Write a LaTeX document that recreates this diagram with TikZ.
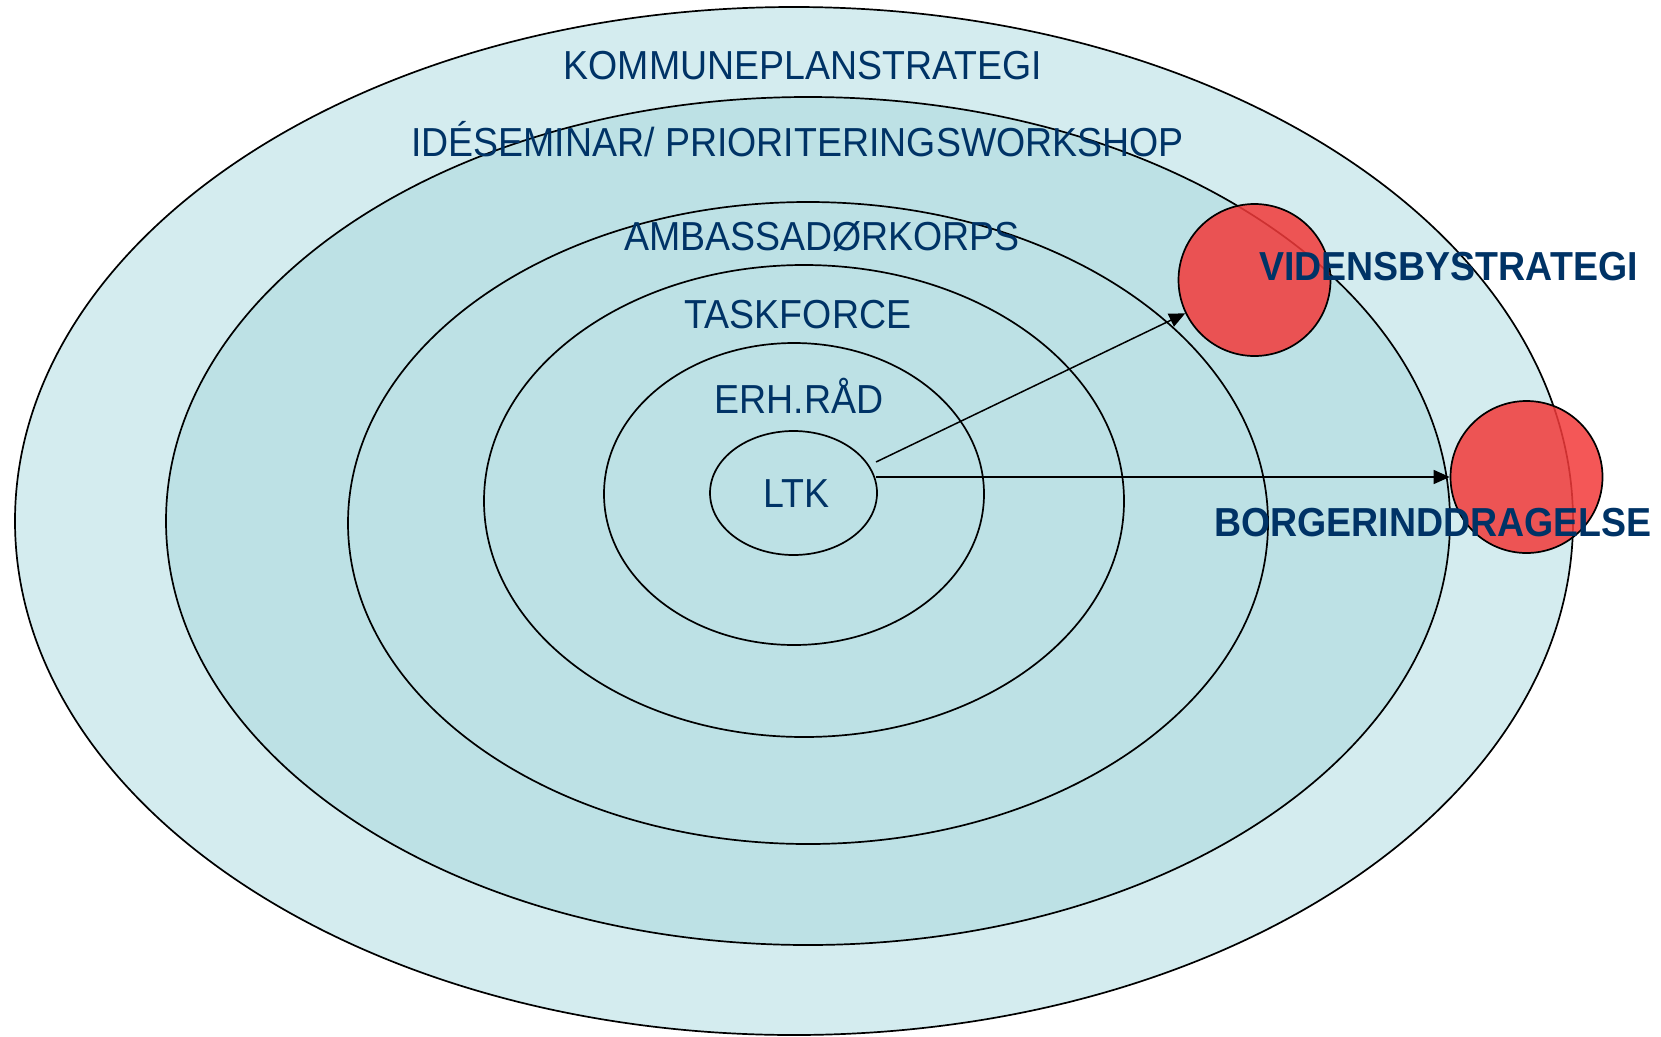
\documentclass[tikz,border=0pt]{standalone}
\usepackage{fontspec}
\setmainfont{Liberation Sans}
\usetikzlibrary{shapes.geometric,arrows.meta}
\definecolor{navy}{RGB}{0,51,102}
\definecolor{ringlight}{RGB}{212,236,239}
\definecolor{ringdark}{RGB}{189,225,229}
\definecolor{redfill}{RGB}{242,58,58}
\newcommand{\tall}[1]{\scalebox{1}[1.08]{#1}}
\begin{document}
\begin{tikzpicture}[x=1pt,y=-1pt,
  ring/.style={ellipse, draw=black, line width=1.7pt, inner sep=0pt, fill=ringdark},
  lbl/.style={text=navy, font=\fontsize{37.5}{40}\selectfont, inner sep=0pt, anchor=base},
  blbl/.style={text=navy, font=\fontsize{37.5}{40}\selectfont\bfseries, inner sep=0pt, anchor=base west},
  dot/.style={circle, draw=black, line width=1.7pt, fill=redfill, fill opacity=0.85, minimum size=152pt, inner sep=0pt},
  arr/.style={-{Triangle[length=16pt,width=14pt]}, line width=1.5pt, draw=black}]
\useasboundingbox (0,0) rectangle (1661,1036);
\node[ring, fill=ringlight, minimum width=1558pt, minimum height=1028pt] (kps) at (794,521) {};
\node[ring, minimum width=1284pt, minimum height=848pt] (ide) at (808,521) {};
\node[ring, minimum width=920pt, minimum height=642pt] (amb) at (808,523) {};
\node[ring, minimum width=640pt, minimum height=472pt] (task) at (804,501) {};
\node[ring, minimum width=380pt, minimum height=302pt] (erh) at (794,494) {};
\node[ring, minimum width=167pt, minimum height=124pt] (ltk) at (793.5,493) {};
\coordinate (s1) at (876,462);
\coordinate (s2) at (876,477);
\node[dot] (vid) at (1254.5,280) {};
\node[dot] (bor) at (1526.5,477) {};
\draw[arr] (s1) -- (vid);
\draw[arr] (s2) -- (bor);
\node[lbl] (t1) at (803,79) {\tall{KOMMUNEPLANSTRATEGI}};
\node[lbl] (t2) at (797.5,156) {\tall{IDÉSEMINAR/ PRIORITERINGSWORKSHOP}};
\node[lbl] (t3) at (822,250) {\tall{AMBASSADØRKORPS}};
\node[lbl] (t4) at (798,328) {\tall{TASKFORCE}};
\node[lbl] (t5) at (799,413) {\tall{ERH.RÅD}};
\node[lbl] (t6) at (796,507) {\tall{LTK}};
\node[blbl] (t7) at (1259,280) {\tall{VIDENSBYSTRATEGI}};
\node[blbl] (t8) at (1214,536) {\tall{BORGERINDDRAGELSE}};
\end{tikzpicture}
\end{document}
